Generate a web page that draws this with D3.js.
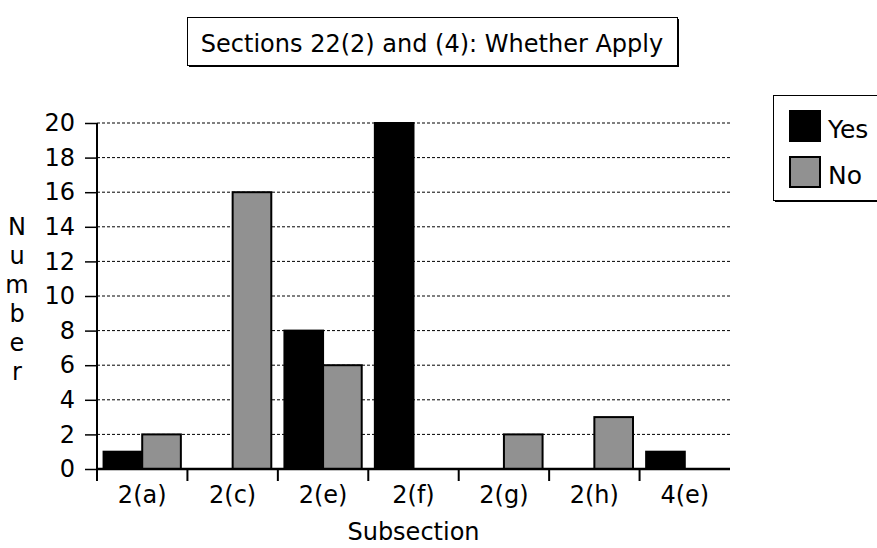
<!DOCTYPE html>
<html>
<head>
<meta charset="utf-8">
<script src="https://cdn.jsdelivr.net/npm/d3@7"></script>
<style>
  html, body { margin: 0; padding: 0; background: #fff; }
  svg { display: block; font-family: "DejaVu Sans", Verdana, sans-serif; }
</style>
</head>
<body>
<svg id="chart" width="877" height="548"></svg>
<script>
// Counts per subsection
const categories = ["2(a)", "2(c)", "2(e)", "2(f)", "2(g)", "2(h)", "4(e)"];
const seriesNames = ["Yes", "No"];
const yesValues = [1, 0, 8, 20, 0, 0, 1];
const noValues = [2, 16, 6, 0, 2, 3, 0];
const yTicks = [0, 2, 4, 6, 8, 10, 12, 14, 16, 18, 20];
const titleText = "Sections 22(2) and (4): Whether Apply";
const xTitle = "Subsection";
const yTitle = "Number";

const colors = { Yes: "#000000", No: "#919191" };
const fontSize = 24;

const svg = d3.select("#chart");

const plot = { left: 97, right: 730, top: 123, bottom: 469 };

const x = d3.scaleBand().domain(categories).range([plot.left, plot.right]).paddingInner(0).paddingOuter(0);
const xSub = d3.scaleBand().domain(seriesNames).range([0, x.bandwidth()]).paddingInner(0).paddingOuter(0.17);
const y = d3.scaleLinear().domain([0, 20]).range([plot.bottom, plot.top]);

// Dashed horizontal gridlines
svg.append("g")
  .selectAll("line")
  .data(yTicks.filter(d => d > 0))
  .join("line")
  .attr("x1", plot.left).attr("x2", plot.right)
  .attr("y1", d => y(d)).attr("y2", d => y(d))
  .attr("stroke", "#000").attr("stroke-width", 1)
  .attr("stroke-dasharray", "3,2");

// Bars
const rows = categories.map((c, i) => ({ cat: c, Yes: yesValues[i], No: noValues[i] }));
const groups = svg.append("g").selectAll("g")
  .data(rows)
  .join("g")
  .attr("transform", d => `translate(${x(d.cat)},0)`);

groups.selectAll("rect")
  .data(d => seriesNames.map(s => ({ s, v: d[s] })))
  .join("rect")
  .attr("x", d => xSub(d.s))
  .attr("width", xSub.bandwidth())
  .attr("y", d => y(d.v))
  .attr("height", d => y(0) - y(d.v))
  .attr("fill", d => colors[d.s])
  .attr("stroke", "#000")
  .attr("stroke-width", 2);

// Y axis
const yAxis = d3.axisLeft(y).tickValues(yTicks).tickSize(12).tickPadding(10).tickSizeOuter(0);
const gy = svg.append("g").attr("transform", `translate(${plot.left},0)`).call(yAxis);
gy.select(".domain").remove();
gy.selectAll(".tick line").attr("stroke", "#000").attr("stroke-width", 1.5);
gy.selectAll(".tick text").attr("font-size", fontSize).attr("fill", "#000")
  .attr("font-family", "DejaVu Sans, Verdana, sans-serif");
gy.append("line")
  .attr("x1", 0).attr("x2", 0)
  .attr("y1", plot.top).attr("y2", plot.bottom + 12)
  .attr("stroke", "#000").attr("stroke-width", 2);

// X axis with ticks at category boundaries
const gx = svg.append("g").attr("transform", `translate(0,${plot.bottom})`);
gx.append("line")
  .attr("x1", plot.left).attr("x2", plot.right)
  .attr("y1", 0).attr("y2", 0)
  .attr("stroke", "#000").attr("stroke-width", 2.5);
gx.selectAll("line.tick")
  .data(categories.slice(1))
  .join("line")
  .attr("class", "tick")
  .attr("x1", d => x(d)).attr("x2", d => x(d))
  .attr("y1", 0).attr("y2", 12)
  .attr("stroke", "#000").attr("stroke-width", 2);
gx.selectAll("text")
  .data(categories)
  .join("text")
  .attr("x", d => x(d) + x.bandwidth() / 2)
  .attr("y", 34)
  .attr("text-anchor", "middle")
  .attr("font-size", fontSize)
  .text(d => d);

// Axis titles
svg.append("text")
  .attr("x", (plot.left + plot.right) / 2)
  .attr("y", 540)
  .attr("text-anchor", "middle")
  .attr("font-size", fontSize)
  .text(xTitle);

const yt = svg.append("text")
  .attr("x", 17)
  .attr("text-anchor", "middle")
  .attr("font-size", fontSize);
yTitle.split("").forEach((ch, i) => {
  yt.append("tspan").attr("x", 17).attr("y", 235 + i * 29).text(ch);
});

// Title box with drop shadow
const tb = { x: 187, y: 17, w: 490, h: 48 };
svg.append("rect").attr("x", tb.x + 2).attr("y", tb.y + 2).attr("width", tb.w).attr("height", tb.h).attr("fill", "#000");
svg.append("rect").attr("x", tb.x + 0.5).attr("y", tb.y + 0.5).attr("width", tb.w).attr("height", tb.h)
  .attr("fill", "#fff").attr("stroke", "#000").attr("stroke-width", 1);
svg.append("text")
  .attr("x", tb.x + tb.w / 2).attr("y", tb.y + 35)
  .attr("text-anchor", "middle")
  .attr("font-size", fontSize)
  .text(titleText);

// Legend
const lg = { x: 773, y: 95, w: 120, h: 105 };
svg.append("rect").attr("x", lg.x + 2).attr("y", lg.y + 2).attr("width", lg.w).attr("height", lg.h).attr("fill", "#000");
svg.append("rect").attr("x", lg.x + 0.5).attr("y", lg.y + 0.5).attr("width", lg.w).attr("height", lg.h)
  .attr("fill", "#fff").attr("stroke", "#000").attr("stroke-width", 1);
const items = svg.append("g").selectAll("g")
  .data(seriesNames)
  .join("g")
  .attr("transform", (d, i) => `translate(${lg.x + 16},${lg.y + 15 + i * 46})`);
items.append("rect")
  .attr("x", 1).attr("y", 1).attr("width", 30).attr("height", 30)
  .attr("fill", d => colors[d]).attr("stroke", "#000").attr("stroke-width", 2);
items.append("text")
  .attr("x", 39).attr("y", 28)
  .attr("font-size", 25)
  .text(d => d);
</script>
</body>
</html>
